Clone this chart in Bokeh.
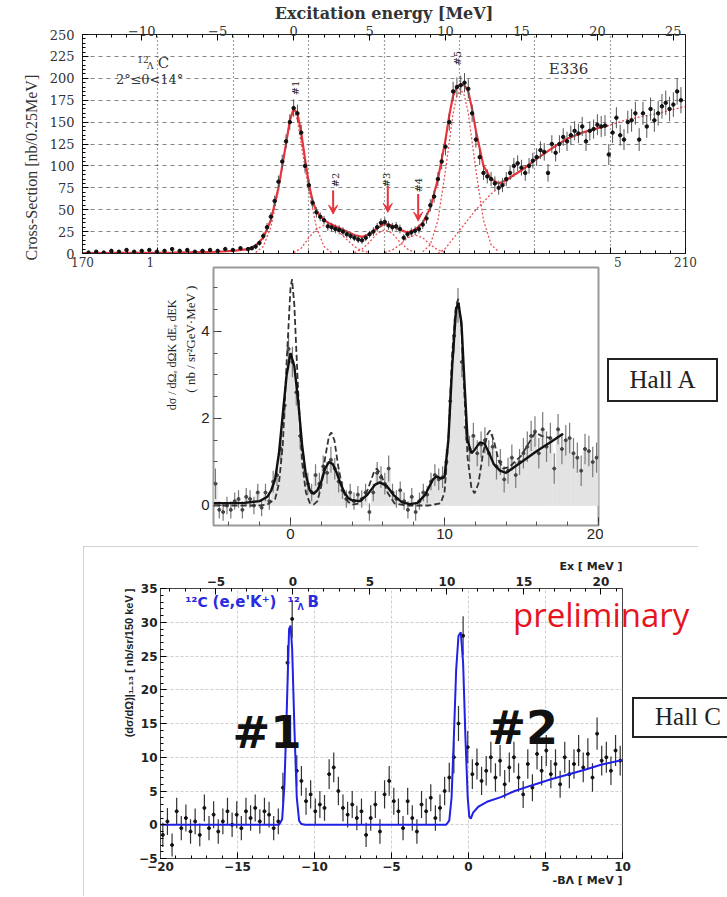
import numpy as np
from bokeh.plotting import figure
from bokeh.models import (Range1d, LinearAxis, SingleIntervalTicker, FixedTicker, Grid,
                          Label, Arrow, VeeHead, Title, Div, Spacer)
from bokeh.layouts import column, row
from bokeh.embed import file_html
from bokeh.resources import INLINE

# ================= Panel 1 : KEK E336, 12-Lambda-C =================
top_flat_first = -13.5
top_flat_bin = 0.5
top_flat_cs = [1, 2, 1, 3, 2, 4, 2, 3, 4, 2, 3, 5, 3, 4, 2, 3, 4, 3, 5, 4, 6]
top_flat_err = [2, 2, 2, 2, 2, 2, 2, 2, 2, 2, 2, 2, 2, 2, 2, 2, 2, 2, 2, 2, 2]
top_main_first = -3.0
top_main_bin = 0.25
top_main_cs = [
    5, 6, 8, 12, 20, 30, 42, 60, 82, 105, 128, 150,
    166, 160, 138, 100, 78, 58, 47, 42, 38, 31, 30, 28,
    27, 25, 22, 20, 18, 16, 15, 18, 22, 25, 30, 35,
    36, 32, 30, 31, 28, 18, 22, 24, 26, 28, 33, 40,
    55, 65, 85, 105, 122, 150, 185, 190, 192, 195, 188, 160,
    130, 110, 92, 88, 85, 80, 75, 78, 85, 92, 100, 103,
    98, 92, 100, 106, 110, 118, 116, 92, 125, 115, 125, 133,
    128, 135, 140, 137, 145, 128, 140, 142, 147, 145, 146, 113,
    138, 155, 135, 130, 150, 152, 160, 130, 160, 145, 165, 152,
    160, 168, 172, 165, 170, 185, 175,
]
top_main_err = [
    2, 2, 3, 3, 4, 5, 5, 6, 7, 8, 8, 9,
    10, 10, 9, 8, 7, 6, 6, 5, 5, 5, 5, 5,
    5, 5, 4, 4, 4, 4, 4, 4, 4, 5, 5, 5,
    5, 5, 5, 5, 5, 4, 4, 5, 5, 5, 5, 6,
    7, 7, 8, 9, 10, 10, 11, 11, 11, 11, 11, 10,
    9, 9, 8, 8, 8, 8, 8, 8, 8, 8, 9, 9,
    9, 9, 9, 9, 10, 10, 10, 10, 10, 10, 10, 10,
    11, 11, 11, 11, 11, 11, 11, 11, 12, 12, 12, 12,
    12, 12, 12, 12, 13, 13, 13, 13, 13, 13, 13, 13,
    14, 14, 14, 14, 14, 15, 15,
]
top_fit = [(-13.9, 0.5), (-8, 1), (-5, 2), (-4, 3), (-3, 5), (-2.5, 9), (-2, 18), (-1.5, 38),
           (-1, 75), (-0.5, 125), (-0.25, 152), (0, 165), (0.25, 160), (0.5, 138), (0.75, 108),
           (1, 80), (1.25, 60), (1.5, 48), (2, 38), (2.5, 33), (3, 29), (3.5, 25), (4, 21),
           (4.5, 19), (5, 22), (5.5, 29), (6, 34), (6.5, 32), (7, 27), (7.5, 24), (8, 27),
           (8.5, 35), (9, 52), (9.5, 85), (10, 130), (10.25, 158), (10.5, 180), (10.75, 190),
           (11, 193), (11.25, 192), (11.5, 185), (11.75, 165), (12, 140), (12.5, 100), (13, 85),
           (13.5, 80), (14, 84), (15, 95), (16, 108), (17, 120), (18, 131), (19, 138),
           (20, 143), (20.7, 146)]
top_comp1 = [(-2.5, 1), (-2, 8), (-1.5, 30), (-1, 72), (-0.5, 125), (-0.25, 152), (0, 165),
             (0.25, 152), (0.5, 125), (1, 72), (1.5, 30), (2, 8), (2.5, 1)]
top_comp2 = [(0, 1), (0.5, 6), (1, 18), (1.5, 28), (2, 32), (2.5, 30), (3, 24), (3.5, 16),
             (4, 8), (4.5, 3), (5, 1)]
top_comp3 = [(4, 1), (4.5, 5), (5, 13), (5.5, 23), (6, 27), (6.5, 23), (7, 13), (7.5, 5), (8, 1)]
top_comp4 = [(6, 1), (6.5, 4), (7, 10), (7.5, 18), (8, 21), (8.5, 18), (9, 10), (9.5, 4), (10, 1)]
top_comp5 = [(8.5, 2), (9, 10), (9.5, 38), (10, 95), (10.5, 160), (10.75, 180), (11, 188),
             (11.25, 180), (11.5, 160), (12, 95), (12.5, 38), (13, 10), (13.5, 2)]
top_bg = [(9.5, 0), (10, 6), (11, 28), (12, 50), (13, 68), (14, 82), (15, 95), (16, 108),
          (17, 120), (18, 131), (19, 138), (20, 143), (20.7, 146), (22, 153), (24, 160),
          (25.8, 168)]
# bottom (channel) axis: only these labels are visible in the reference
top_ch_ticks = [170, 175, 205, 210]
top_ch_labels = {170: "170", 175: "1\u00a0\u00a0\u00a0\u00a0", 205: "\u00a0\u00a0\u00a0\u00a05",
                 210: "210"}
top_peak_names = ["#1", "#2", "#3", "#4", "#5"]
top_peak_ex = [0.13, 2.76, 6.1, 8.2, 10.8]
top_peak_lab_y = [189, 84, 84, 78, 223]
top_arrow_ex = [2.6, 6.2, 8.2]
top_arrow_from = [72, 77, 68]
top_arrow_to = [45, 47, 37]

# ================= Panel 2 : Hall A =================
ha_first = -4.875
ha_bin = 0.25
ha_y = [
    0.5, -0.1, -0.15, 0.0, -0.1, 0.1, 0.15, -0.1, 0.2, 0.15, 0.0, 0.3,
    -0.05, 0.3, 0.1, 0.55, 0.7, 1.3, 2.3, 3.6, 3.3, 2.6, 1.6, 0.9,
    0.5, 0.3, 0.7, 0.5, 0.9, 0.75, 1.05, 0.85, 0.55, 0.35, 0.15, 0.3,
    0.1, 0.25, 0.15, 0.3, -0.15, 0.3, 0.75, 0.65, 0.5, 0.85, 0.3, 0.15,
    0.35, 0.1, -0.1, 0.2, -0.15, 0.1, 0.3, 0.25, 0.55, 0.7, 0.6, 0.65,
    1.0, 2.4, 3.9, 4.6, 3.3, 1.8, 1.3, 1.6, 1.2, 1.4, 1.5, 1.2,
    1.35, 0.9, 1.0, 0.6, 0.8, 1.1, 0.7, 1.0, 1.2, 1.35, 1.6, 1.7,
    1.2, 1.75, 1.35, 1.55, 0.85, 1.75, 1.3, 1.5, 1.55, 1.2, 1.1, 0.8,
    1.3, 1.25, 1.0, 1.1,
]
ha_err = [
    0.35, 0.2, 0.2, 0.2, 0.2, 0.2, 0.2, 0.2, 0.2, 0.2, 0.2, 0.2,
    0.2, 0.2, 0.2, 0.25, 0.25, 0.3, 0.3, 0.35, 0.35, 0.3, 0.3, 0.25,
    0.25, 0.2, 0.25, 0.25, 0.25, 0.25, 0.3, 0.25, 0.25, 0.2, 0.2, 0.2,
    0.2, 0.2, 0.2, 0.2, 0.2, 0.2, 0.25, 0.25, 0.25, 0.3, 0.2, 0.2,
    0.2, 0.2, 0.2, 0.2, 0.2, 0.2, 0.2, 0.2, 0.2, 0.25, 0.25, 0.25,
    0.3, 0.35, 0.4, 0.4, 0.35, 0.3, 0.3, 0.3, 0.3, 0.3, 0.3, 0.3,
    0.3, 0.3, 0.3, 0.3, 0.3, 0.3, 0.3, 0.3, 0.35, 0.35, 0.35, 0.35,
    0.35, 0.4, 0.35, 0.35, 0.35, 0.35, 0.35, 0.35, 0.35, 0.35, 0.35, 0.35,
    0.35, 0.35, 0.35, 0.35,
]
ha_solid = [(-5.0, 0.05), (-3.0, 0.06), (-2.0, 0.1), (-1.5, 0.2), (-1.25, 0.35), (-1.0, 0.6),
            (-0.75, 1.2), (-0.5, 2.1), (-0.25, 3.0), (0.0, 3.5), (0.25, 3.2), (0.5, 2.4),
            (0.75, 1.4), (1.0, 0.7), (1.25, 0.35), (1.5, 0.27), (1.75, 0.35), (2.0, 0.55),
            (2.25, 0.85), (2.5, 1.0), (2.75, 0.95), (3.0, 0.75), (3.25, 0.5), (3.5, 0.3),
            (3.75, 0.17), (4.0, 0.12), (4.5, 0.1), (5.0, 0.25), (5.5, 0.48), (5.8, 0.53),
            (6.25, 0.45), (6.75, 0.22), (7.25, 0.07), (7.75, 0.03), (8.25, 0.06), (8.75, 0.25),
            (9.25, 0.6), (9.5, 0.67), (9.75, 0.62), (10.0, 0.65), (10.25, 1.5), (10.5, 3.2),
            (10.75, 4.5), (10.9, 4.65), (11.1, 4.2), (11.3, 2.8), (11.5, 1.5), (11.75, 1.2),
            (12.0, 1.3), (12.3, 1.45), (12.6, 1.42), (12.9, 1.2), (13.2, 0.95), (13.6, 0.8),
            (14.0, 0.75), (15.0, 1.0), (16.0, 1.25), (17.0, 1.48), (17.7, 1.65)]
ha_dash = [(-5.0, 0.0), (-2.0, 0.0), (-1.5, 0.02), (-1.0, 0.15), (-0.75, 0.5), (-0.5, 1.4),
           (-0.25, 3.3), (0.0, 5.0), (0.1, 5.2), (0.25, 4.6), (0.5, 2.6), (0.75, 1.0),
           (1.0, 0.3), (1.25, 0.06), (1.5, 0.02), (1.75, 0.1), (2.0, 0.45), (2.25, 1.1),
           (2.5, 1.6), (2.65, 1.68), (2.85, 1.5), (3.1, 0.9), (3.4, 0.35), (3.75, 0.08),
           (4.0, 0.02), (4.5, 0.05), (5.0, 0.35), (5.4, 0.75), (5.6, 0.85), (5.9, 0.7),
           (6.3, 0.3), (6.75, 0.05), (7.5, 0.0), (9.0, 0.0), (9.75, 0.05), (10.0, 0.3),
           (10.25, 1.5), (10.5, 3.5), (10.75, 4.6), (10.9, 4.75), (11.1, 4.1), (11.3, 2.5),
           (11.5, 1.1), (11.75, 0.4), (11.95, 0.28), (12.2, 0.5), (12.5, 1.2), (12.8, 1.65),
           (12.95, 1.72), (13.2, 1.5), (13.5, 1.05), (13.8, 0.85), (14.2, 0.88), (15.0, 1.15),
           (15.5, 1.45), (15.9, 1.68), (16.3, 1.6), (16.9, 1.55)]

# ================= Panel 3 : Hall C =================
hc_first = -19.85
hc_bin = 0.3
hc_ex_offset = 11.4
hc_y = [
    -1.5, 0.5, -3.0, 2.0, -0.5, 1.0, -1.0, 0.5, -1.5, 2.5,
    -0.5, 1.5, -1.0, 0.5, 2.0, 0.0, 1.5, -0.5, 2.0, 1.0,
    2.5, 0.5, 2.0, 1.5, -0.5, 0.5, 5.5, 24.0, 30.5, 8.0,
    6.5, 3.5, 4.5, 2.0, 3.0, 2.5, 7.5, 8.5, 5.0, 2.5,
    1.5, 3.0, 1.0, 2.0, -1.5, 1.0, 3.0, -1.0, 4.5, 6.5,
    3.5, 2.0, -0.5, 3.5, 1.0, -1.0, 3.0, 2.0, 4.0, 1.0,
    2.5, 5.0, 7.0, 10.0, 15.0, 28.0, 11.5, 7.5, 9.0, 6.5,
    8.0, 10.0, 7.0, 9.5, 6.0, 8.5, 10.0, 7.0, 4.5, 9.0,
    5.5, 10.5, 8.0, 11.0, 7.5, 9.0, 6.0, 10.0, 7.5, 9.0,
    11.0, 8.5, 10.5, 7.0, 13.5, 9.5, 10.0, 8.0, 11.0, 9.5,
]
hc_err = [
    1.8, 2.0, 1.7, 2.0, 1.8, 2.0, 1.8, 1.9, 1.7, 2.0,
    1.8, 2.0, 1.8, 1.9, 2.0, 1.8, 2.0, 1.8, 2.0, 1.9,
    2.0, 1.8, 2.0, 1.9, 1.8, 1.9, 2.2, 2.6, 2.8, 2.3,
    2.2, 2.0, 2.1, 1.9, 2.0, 1.9, 2.2, 2.2, 2.1, 2.0,
    1.9, 2.0, 1.8, 1.9, 1.8, 1.9, 2.0, 1.8, 2.1, 2.2,
    2.0, 1.9, 1.8, 2.0, 1.9, 1.8, 2.0, 1.9, 2.0, 1.9,
    2.0, 2.1, 2.2, 2.4, 2.6, 2.9, 2.4, 2.2, 2.3, 2.1,
    2.2, 2.3, 2.1, 2.3, 2.1, 2.2, 2.3, 2.1, 2.0, 2.2,
    2.0, 2.3, 2.2, 2.3, 2.1, 2.2, 2.0, 2.3, 2.1, 2.2,
    2.3, 2.2, 2.3, 2.1, 2.4, 2.2, 2.3, 2.1, 2.3, 2.2,
]
hc_fit = [(-20, 0), (-12.3, 0), (-12.1, 0.8), (-11.95, 6), (-11.8, 17), (-11.65, 29),
          (-11.55, 29.5), (-11.45, 26), (-11.3, 14), (-11.15, 4), (-11.0, 0.6), (-10.85, 0.1),
          (-10.6, 0), (-1.45, 0), (-1.25, 0.6), (-1.1, 4), (-0.95, 13), (-0.8, 23),
          (-0.65, 28), (-0.5, 28.5), (-0.35, 24), (-0.2, 13), (-0.05, 4), (0.05, 1.2),
          (0.15, 0.9), (0.3, 1.8), (0.65, 2.7), (1.2, 3.4), (2.1, 4.1), (3.0, 5.0), (4.2, 5.9),
          (5.3, 6.7), (6.4, 7.4), (7.5, 8.1), (8.6, 8.9), (10.0, 9.6)]


def xy(pairs):
    return [a for a, _ in pairs], [b for _, b in pairs]


def inward(ax, maj=6, mnr=3):
    ax.major_tick_in = maj
    ax.major_tick_out = 0
    ax.minor_tick_in = mnr
    ax.minor_tick_out = 0


SER = "DejaVu Serif"
SANS = "Liberation Sans"
DJS = "DejaVu Sans"

# ---------------- figure 1 ----------------
p1 = figure(width=727, height=272, x_range=Range1d(-13.9, 25.8), y_range=Range1d(0, 250),
            x_axis_location=None, output_backend="svg", toolbar_location=None, title=None,
            min_border_left=82, min_border_right=42, min_border_top=33, min_border_bottom=19)
p1.extra_x_ranges = {"ch": Range1d(170, 210)}
p1.outline_line_color = "#1a1a1a"
p1.xgrid.visible = False
p1.ygrid.grid_line_color = "#666666"
p1.ygrid.grid_line_dash = "4 4"
p1.ygrid.grid_line_width = 0.8
p1.add_layout(Grid(dimension=0, ticker=SingleIntervalTicker(interval=5), x_range_name="ch",
                   grid_line_color="#444444", grid_line_dash="1 3", grid_line_width=1.2))

ya = p1.yaxis[0]
ya.ticker = SingleIntervalTicker(interval=25, num_minor_ticks=5)
ya.major_label_text_font = SER
ya.major_label_text_font_size = "13px"
ya.major_label_text_color = "#333333"
ya.major_label_standoff = 8
ya.axis_line_color = "#222222"
inward(ya)
p1.add_layout(Title(text="Cross-Section [nb/0.25MeV]", align="left", offset=-7, standoff=14,
                    text_font="Liberation Sans Narrow", text_font_size="16px",
                    text_font_style="normal", text_color="#333333"), "left")

ta = LinearAxis(ticker=SingleIntervalTicker(interval=5, num_minor_ticks=5),
                axis_label="Excitation energy [MeV]", axis_label_text_font=SER,
                axis_label_text_font_style="bold", axis_label_text_font_size="16px",
                axis_label_text_color="#333333", axis_label_standoff=0, major_label_standoff=-1,
                major_label_text_font=SER, major_label_text_font_size="13px",
                major_label_text_color="#333333", axis_line_color="#222222")
inward(ta)
p1.add_layout(ta, "above")

ba = LinearAxis(x_range_name="ch",
                ticker=FixedTicker(ticks=top_ch_ticks, minor_ticks=list(range(170, 211))),
                major_label_overrides=top_ch_labels, major_label_standoff=2,
                major_label_text_font=SER, major_label_text_font_size="12px",
                major_label_text_color="#333333", axis_line_color="#222222")
inward(ba)
p1.add_layout(ba, "below")

RED = "#e8343c"
for comp in (top_comp1, top_comp2, top_comp3, top_comp4, top_comp5, top_bg):
    cx, cy = xy(comp)
    p1.line(cx, cy, line_color=RED, line_dash="2 2", line_width=1.3, line_alpha=0.85)
fx, fy = xy(top_fit)
p1.line(fx, fy, line_color=RED, line_width=2.2)

top_x = np.concatenate([top_flat_first + top_flat_bin * np.arange(len(top_flat_cs)),
                        top_main_first + top_main_bin * np.arange(len(top_main_cs))])
top_y = np.array(top_flat_cs + top_main_cs, dtype=float)
top_e = np.array(top_flat_err + top_main_err, dtype=float)
p1.segment(top_x, top_y - top_e, top_x, top_y + top_e, line_color="#555555", line_width=1)
p1.scatter(top_x, top_y, size=3.5, color="#111111")

for name, ex, yy in zip(top_peak_names, top_peak_ex, top_peak_lab_y):
    p1.add_layout(Label(x=ex, y=yy, text=name, angle=np.pi / 2, text_align="center",
                        text_baseline="middle", text_font=SER, text_font_size="10px",
                        text_color="#222222"))
for ex, y0, y1 in zip(top_arrow_ex, top_arrow_from, top_arrow_to):
    p1.add_layout(Arrow(x_start=ex, y_start=y0, x_end=ex, y_end=y1, line_color=RED,
                        line_width=2, end=VeeHead(size=9, line_color=RED, fill_color=RED)))
p1.add_layout(Label(x=-10.3, y=222, text="12", text_font=SER, text_font_size="9px",
                    text_baseline="middle", text_color="#333333"))
p1.add_layout(Label(x=-9.65, y=214, text="Λ", text_font=SER, text_font_size="9px",
                    text_baseline="middle", text_color="#333333"))
p1.add_layout(Label(x=-8.95, y=218, text="C", text_font=SER, text_font_size="15px",
                    text_baseline="middle", text_color="#333333"))
p1.add_layout(Label(x=-11.7, y=199, text="2°≤θ<14°", text_font=SER, text_font_size="13px",
                    text_baseline="middle", text_color="#333333"))
p1.add_layout(Label(x=16.8, y=211, text="E336", text_font=SER, text_font_size="15px",
                    text_baseline="middle", text_color="#333333"))

# ---------------- figure 2 (Hall A) ----------------
p2 = figure(width=453, height=280, x_range=Range1d(-5, 20), y_range=Range1d(-0.46, 5.47),
            output_backend="svg", toolbar_location=None, title=None,
            min_border_left=63, min_border_right=5, min_border_top=1, min_border_bottom=21)
p2.outline_line_color = "#9a9a9a"
p2.outline_line_width = 2
p2.xgrid.visible = False
p2.ygrid.visible = False
for ax in (p2.xaxis[0], p2.yaxis[0]):
    ax.axis_line_color = None
    ax.major_label_text_font = SANS
    ax.major_label_text_font_size = "15px"
    ax.major_label_text_color = "#222222"
    ax.major_tick_line_color = "#333333"
    ax.minor_tick_line_color = "#555555"
    inward(ax, 8, 4)
p2.xaxis[0].ticker = SingleIntervalTicker(interval=10, num_minor_ticks=5)
p2.yaxis[0].ticker = SingleIntervalTicker(interval=2, num_minor_ticks=4)
p2.xaxis[0].major_label_standoff = 3
p2.yaxis[0].major_label_standoff = 4
p2.add_layout(Title(text="( nb / sr²GeV·MeV )", align="right", offset=18, standoff=2,
                    text_font="Liberation Serif", text_font_size="13px",
                    text_font_style="normal", text_color="#222222"), "left")
p2.add_layout(Title(text="dσ / dΩₑ dΩK dEₑ dEK", align="right", offset=32, standoff=2,
                    text_font="Liberation Serif", text_font_size="12px",
                    text_font_style="normal", text_color="#222222"), "left")

ha_x = ha_first + ha_bin * np.arange(len(ha_y))
ha_arr = np.array(ha_y, dtype=float)
ha_e = np.array(ha_err, dtype=float)
p2.vbar(x=ha_x, width=ha_bin, top=np.maximum(ha_arr, 0), bottom=0, fill_color="#e3e3e3",
        line_color="#e3e3e3", line_width=0.6)
p2.segment(ha_x, ha_arr - ha_e, ha_x, ha_arr + ha_e, line_color="#7a7a7a", line_width=1.2)
p2.scatter(ha_x, ha_arr, size=3, color="#444444")
dx, dy = xy(ha_dash)
p2.line(dx, dy, line_color="#333333", line_width=1.8, line_dash="6 3")
sx, sy = xy(ha_solid)
p2.line(sx, sy, line_color="#111111", line_width=2.4)

halla = Div(text="Hall A", width=111, height=44,
            styles={"margin-left": "4px", "margin-top": "92px", "border": "2px solid #222",
                    "box-sizing": "border-box", "text-align": "center", "line-height": "39px",
                    "font-family": "Liberation Serif", "font-size": "25px", "color": "#222",
                    "background": "white"})

# ---------------- figure 3 (Hall C) ----------------
p3 = figure(width=615, height=350, x_range=Range1d(-20, 10), y_range=Range1d(-5, 35),
            output_backend="svg", toolbar_location=None,
            min_border_left=77, min_border_right=76, min_border_top=42, min_border_bottom=38)
p3.extra_x_ranges = {"ex": Range1d(-20 + hc_ex_offset, 10 + hc_ex_offset)}
p3.styles = {"outline": "1px solid #c4c4c4", "outline-offset": "-1px"}
p3.outline_line_color = "#444444"
p3.title.text = "Ex [ MeV ]"
p3.title.align = "right"
p3.title.text_font = DJS
p3.title.text_font_size = "11px"
p3.title.text_font_style = "bold"
p3.title.text_color = "#222222"
p3.title.standoff = 2
for g in (p3.xgrid[0], p3.ygrid[0]):
    g.grid_line_color = "#cfcfcf"
    g.grid_line_dash = "3 2"
xa3 = p3.xaxis[0]
ya3 = p3.yaxis[0]
xa3.ticker = SingleIntervalTicker(interval=5, num_minor_ticks=5)
ya3.ticker = SingleIntervalTicker(interval=5, num_minor_ticks=5)
ex3 = LinearAxis(x_range_name="ex", ticker=SingleIntervalTicker(interval=5, num_minor_ticks=5))
p3.add_layout(ex3, "above")
for ax in (xa3, ya3, ex3):
    ax.axis_line_color = "#444444"
    ax.major_label_text_font = DJS
    ax.major_label_text_font_style = "bold"
    ax.major_label_text_font_size = "12px"
    ax.major_label_text_color = "#222222"
    ax.major_label_standoff = 3
    inward(ax, 6, 3)
p3.add_layout(Title(text="(dσ/dΩ)|₁₋₁₃ [ nb/sr/150 keV ]", align="right", offset=0, standoff=4,
                    text_font=SANS, text_font_size="11px", text_font_style="bold",
                    text_color="#222222"), "left")
p3.add_layout(Title(text="-BΛ [ MeV ]", align="right", offset=0, standoff=-3,
                    text_font=DJS, text_font_size="11px", text_font_style="bold",
                    text_color="#222222"), "below")

hc_x = hc_first + hc_bin * np.arange(len(hc_y))
hc_arr = np.array(hc_y, dtype=float)
hc_e = np.array(hc_err, dtype=float)
p3.segment(hc_x, hc_arr - hc_e, hc_x, hc_arr + hc_e, line_color="#333333", line_width=1.2)
p3.scatter(hc_x, hc_arr, size=3, color="#111111")
bx, by = xy(hc_fit)
p3.line(bx, by, line_color="#2020e6", line_width=2)

BLUE = "#2b2be0"
p3.add_layout(Label(x=-18.4, y=33.0, text="¹²C", text_font=DJS, text_font_style="bold",
                    text_font_size="14px", text_color=BLUE, text_baseline="alphabetic"))
p3.add_layout(Label(x=-16.62, y=33.0, text="(e,e'K⁺)", text_font=DJS, text_font_style="bold",
                    text_font_size="15px", text_color=BLUE, text_baseline="alphabetic"))
p3.add_layout(Label(x=-11.75, y=33.0, text="¹²", text_font=DJS, text_font_style="bold",
                    text_font_size="14px", text_color=BLUE, text_baseline="alphabetic"))
p3.add_layout(Label(x=-11.1, y=32.2, text="Λ", text_font=DJS, text_font_style="bold",
                    text_font_size="8px", text_color=BLUE, text_baseline="alphabetic"))
p3.add_layout(Label(x=-10.45, y=33.0, text="B", text_font=DJS, text_font_style="bold",
                    text_font_size="15px", text_color=BLUE, text_baseline="alphabetic"))
p3.add_layout(Label(x=-15.32, y=13.6, text="#1", text_font=DJS, text_font_style="bold",
                    text_font_size="45px", text_color="#111111", text_baseline="middle"))
p3.add_layout(Label(x=1.23, y=14.4, text="#2", text_font=DJS, text_font_style="bold",
                    text_font_size="46px", text_color="#111111", text_baseline="middle"))

prelim = Div(text="preliminary", width=182, height=45,
             styles={"margin-left": "-185px", "margin-top": "49px", "font-family": "Open Sans",
                     "font-size": "33px", "line-height": "40px", "color": "#e5141e",
                     "white-space": "nowrap", "position": "relative", "z-index": "4"})
hallc = Div(text="Hall C", width=100, height=41,
            styles={"margin-left": "-68px", "margin-top": "151px",
                    "border-top": "2px solid #222", "border-left": "2px solid #222",
                    "border-bottom": "2px solid #222", "box-sizing": "border-box",
                    "padding-left": "21px", "line-height": "36px",
                    "font-family": "Liberation Serif", "font-size": "25px", "color": "#222",
                    "background": "white", "position": "relative", "z-index": "5"})

mid_row = row(Spacer(width=150, height=280), p2, halla,
              styles={"margin-top": "-6px", "position": "relative", "z-index": "2"})
bot_row = row(Spacer(width=83, height=350), p3, prelim, hallc)
layout = column(p1, mid_row, bot_row)

open("out.html", "w").write(file_html(layout, INLINE, title="Hypernuclear spectra"))
